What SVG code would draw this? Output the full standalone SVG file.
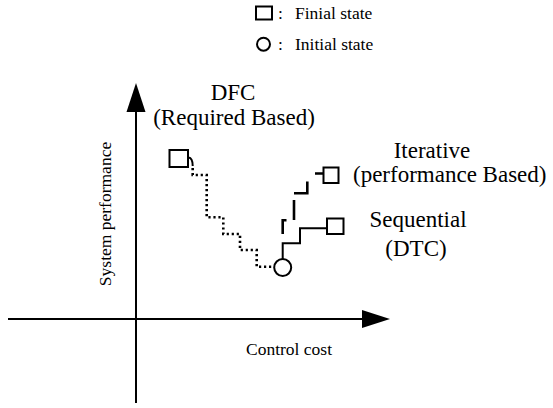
<svg xmlns="http://www.w3.org/2000/svg" width="553" height="408" viewBox="0 0 553 408">
<style>
text{font-family:"Liberation Serif","Times New Roman",serif;fill:#000}
.sm{font-size:17.5px}
.lg{font-size:23px}
.ax{stroke:#000;stroke-width:2;fill:none}
.st{fill:#fff;stroke:#000;stroke-width:2}
.dot{stroke:#000;stroke-width:2.6;fill:none;stroke-dasharray:2.2,2.8}
.dash{stroke:#000;stroke-width:2.6;fill:none}
.sol{stroke:#000;stroke-width:2;fill:none}
</style>
<g id="legend">
<rect class="st" x="256" y="6.5" width="16" height="13"/>
<text class="sm" x="278" y="18.5">:</text>
<text class="sm" x="295" y="18.5">Finial state</text>
<circle class="st" cx="263.5" cy="44.2" r="6.5"/>
<text class="sm" x="278" y="49.5">:</text>
<text class="sm" x="295" y="49.5">Initial state</text>
</g>
<g id="axes">
<line class="ax" x1="136" y1="403" x2="136" y2="108"/>
<polygon points="136,83 126.5,112 145.5,112" fill="#000"/>
<line class="ax" x1="8" y1="319" x2="365" y2="319"/>
<polygon points="390,319 362,310 362,328" fill="#000"/>
<text class="sm" x="246" y="355">Control cost</text>
<text class="sm" text-anchor="middle" transform="translate(111,214) rotate(-90)">System performance</text>
</g>
<g id="connectors">
<path class="sol" d="M188.5,157.5 Q192.7,158 192.7,166"/>
<path class="dot" d="M192.7,168 V175 H206.7 V217.3 H223.3 V234 H240 V250 H256.7 V266.7 H273"/>
<path class="sol" d="M282.7,259 V243.3 H300 V228.3 H327"/>
<path class="dash" d="M282.7,234 V220.3 H286.5 M294,220 V200 M294,193.3 H307.3 V181.5 M315,173.5 H323.5"/>
</g>
<g id="dfc">
<rect class="st" x="169.5" y="150" width="18.5" height="17"/>
<text class="lg" x="233" y="100" text-anchor="middle">DFC</text>
<text class="lg" x="234" y="125" text-anchor="middle">(Required Based)</text>
</g>
<g id="initial">
<circle class="st" cx="282.7" cy="267.5" r="8.5"/>
</g>
<g id="iterative">
<rect class="st" x="323.5" y="167.5" width="15" height="15.5"/>
<text class="lg" x="432" y="158" text-anchor="middle">Iterative</text>
<text class="lg" x="353" y="182">(performance Based)</text>
</g>
<g id="sequential">
<rect class="st" x="327" y="218.5" width="16.5" height="15.5"/>
<text class="lg" x="418" y="227" text-anchor="middle">Sequential</text>
<text class="lg" x="416" y="256" text-anchor="middle">(DTC)</text>
</g>
</svg>
